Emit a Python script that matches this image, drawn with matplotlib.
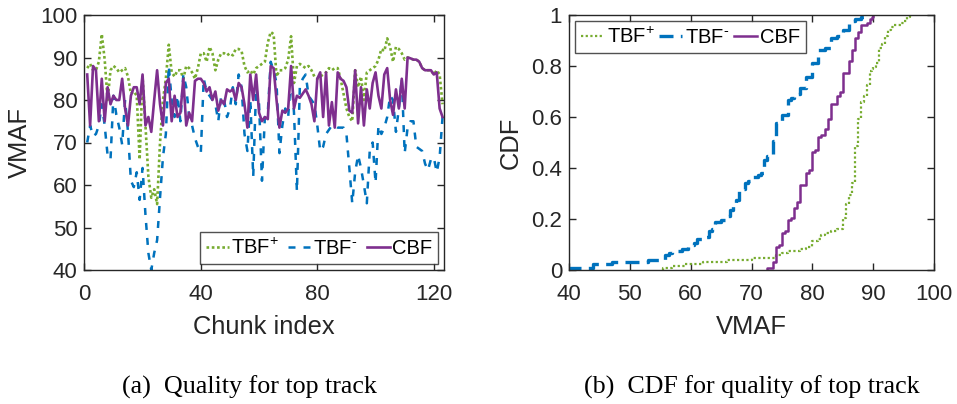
import numpy as np
import matplotlib
matplotlib.use("Agg")
import matplotlib.pyplot as plt

plt.rcParams['font.family'] = ['Liberation Sans', 'DejaVu Sans']
plt.rcParams['mathtext.fontset'] = 'custom'
plt.rcParams['mathtext.rm'] = 'Liberation Sans'
plt.rcParams['mathtext.it'] = 'Liberation Sans'

# ---- data (chunk index 1..123) ----
chunks = list(range(1, 124))

tbf_plus = [87.5, 88.5, 87, 87, 89, 95.5, 89.5, 80, 87, 88,
            87.5, 86.5, 87, 87.5, 85.5, 81.5, 82, 81, 66, 85.5,
            74, 62, 57, 59, 55.5, 70, 80, 85, 93, 86.5,
            85.5, 87, 87, 85, 88, 87.5, 86.5, 85, 87.5, 91,
            91, 89, 92.5, 91, 87, 89.5, 91, 91, 90.5, 91,
            90.5, 92, 92, 91.5, 88, 86.5, 87, 86, 87.5, 88,
            88.5, 89, 93.5, 96, 95.5, 85.5, 87, 87, 87.5, 89.5,
            95, 84, 88, 88.5, 88, 87.5, 88, 87, 85.5, 85,
            85.5, 86, 86.5, 87.5, 87, 87.5, 87.5, 85, 81.5, 78,
            76, 75, 87, 83, 85.5, 80, 86.5, 87, 87.5, 88,
            89.5, 92, 91.5, 94.5, 92.5, 89, 92.5, 92, 91, 89.5,
            90, 89.8, 89.5, 89.5, 89, 87.5, 87, 87, 87, 86,
            87, 86, 79]

tbf_minus = [70, 74, 71.5, 72, 74, 79, 74, 67, 66, 81,
             76.5, 73.5, 69.5, 80, 72.5, 61, 59.5, 63, 56.5, 64,
             53, 44, 40, 44, 47, 57, 66.5, 72, 88, 80,
             76, 81, 75, 86, 83, 76, 74, 71, 69, 67.5,
             85, 82, 81, 80, 79, 75, 81, 80, 76, 78,
             83, 79, 86, 83, 72, 68, 80, 62, 83, 79,
             61, 76, 77, 89, 87, 84, 67.5, 74, 78, 76,
             86, 77, 58.5, 83, 85, 86, 81, 80, 79, 74,
             68, 69, 72, 73, 74, 74, 73.5, 73.5, 73.5, 72,
             64, 55.7, 63, 67, 64, 60, 55.7, 68, 70, 60.5,
             74, 72, 73.5, 76, 81, 80, 72.5, 78, 85, 67.5,
             73.5, 75, 75, 69, 68.5, 68, 65, 63.5, 66, 66.5,
             63, 66.5, 76]

cbf = [86, 74, 88, 87, 75, 85, 75, 83, 79, 81,
       80, 80, 85, 78, 74, 81, 83, 83, 79, 86,
       74, 76, 72.5, 80, 87, 79, 74, 84, 85, 75,
       81, 76, 77, 85, 74, 77, 75, 84.5, 85, 85,
       84, 82, 83, 80, 82, 77.5, 80, 79, 82.5, 82,
       82.5, 80, 84, 83, 79, 73.5, 86, 80, 86, 77,
       75, 76, 75.5, 88, 87.5, 80, 73.5, 77.5, 77, 78,
       88, 78, 81, 80.5, 81.5, 82.5, 81, 79, 75, 85,
       86.5, 76, 86.5, 74, 79.5, 73.5, 86.5, 85, 84.5, 83,
       77.5, 77, 87, 74.5, 83, 74, 82.5, 78, 84, 86.5,
       81, 78, 86, 87.5, 80, 76.5, 82.5, 78, 85, 78,
       90, 89.8, 89.5, 89.5, 89, 87.5, 87, 87, 87, 86,
       86.5, 78, 76]

series_names = ['TBF$^{+}$', 'TBF$^{\\text{-}}$', 'CBF']
left_xticks = [0, 40, 80, 120]
left_yticks = [40, 50, 60, 70, 80, 90, 100]
right_xticks = [40, 50, 60, 70, 80, 90, 100]
right_yticks = [0, 0.2, 0.4, 0.6, 0.8, 1]
right_yticklabels = ['0', '0.2', '0.4', '0.6', '0.8', '1']

colors = ['#77AC30', '#0072BD', '#7E2F8E']
styles_left = [(0, (1, 1)), (0, (2.8, 3.2)), '-']
widths_left = [1.9, 1.8, 1.9]
styles_right = [(0, (1, 1.1)), (0, (4.2, 2.2)), '-']
widths_right = [1.6, 2.4, 1.8]
axcol = '#262626'
TFS = 16
LFS = 18.4
LEGFS = 14.5

fig = plt.figure(figsize=(9.57, 4.04), dpi=100)
W, H = 957, 404

def add_axes(x0, y0, x1, y1):
    return fig.add_axes([x0 / W, 1 - y1 / H, (x1 - x0) / W, (y1 - y0) / H])

axL = add_axes(84.3, 15, 444, 270)
axR = add_axes(569, 15, 934, 270)

for ax in (axL, axR):
    for sp in ax.spines.values():
        sp.set_color(axcol)
        sp.set_linewidth(1.0)
    ax.tick_params(direction='in', top=True, right=True, colors=axcol,
                   labelsize=TFS, length=5, width=1.0)
    ax.tick_params(axis='x', pad=10)
    ax.tick_params(axis='y', pad=5)

data = [tbf_plus, tbf_minus, cbf]

# left: time series
for vals, c, ls, lw, nm in zip(data, colors, styles_left, widths_left, series_names):
    axL.plot(chunks, vals, color=c, linestyle=ls, linewidth=lw, label=nm)
axL.set_xlim(0, 123.5)
axL.set_ylim(40, 100)
axL.set_xticks(left_xticks)
axL.set_yticks(left_yticks)
axL.set_xlabel('Chunk index', fontsize=LFS, color=axcol, labelpad=7)
axL.set_ylabel('VMAF', fontsize=LFS, color=axcol, labelpad=6)
legL = axL.legend(loc='lower right', ncol=3, fontsize=LEGFS, frameon=True,
                  fancybox=False, edgecolor=axcol, handlelength=1.15,
                  handletextpad=0.1, columnspacing=0.45, borderpad=0.3,
                  borderaxespad=0.3)
legL.get_frame().set_linewidth(1.0)

# right: empirical CDFs
for vals, c, ls, lw, nm in zip(data, colors, styles_right, widths_right, series_names):
    s = np.sort(np.asarray(vals, dtype=float))
    p = np.arange(1, len(s) + 1) / len(s)
    xs = np.concatenate([[s[0]], s])
    ys = np.concatenate([[0.0], p])
    axR.step(xs, ys, where='post', color=c, linestyle=ls, linewidth=lw, label=nm)
axR.set_xlim(40, 100)
axR.set_ylim(0, 1)
axR.set_xticks(right_xticks)
axR.set_yticks(right_yticks)
axR.set_yticklabels(right_yticklabels)
axR.set_xlabel('VMAF', fontsize=LFS, color=axcol, labelpad=7)
axR.set_ylabel('CDF', fontsize=LFS, color=axcol, labelpad=6)
legR = axR.legend(loc='upper left', ncol=3, fontsize=LEGFS, frameon=True,
                  fancybox=False, edgecolor=axcol, handlelength=1.15,
                  handletextpad=0.15, columnspacing=0.2, borderpad=0.3,
                  borderaxespad=0.3)
legR.get_frame().set_linewidth(1.0)

fig.text(249 / W, 1 - 394 / H, '(a)  Quality for top track', ha='center',
         va='baseline', fontsize=18.7, family='Liberation Serif')
fig.text(752 / W, 1 - 394 / H, '(b)  CDF for quality of top track', ha='center',
         va='baseline', fontsize=18.7, family='Liberation Serif')

fig.savefig('out.png', dpi=100)
